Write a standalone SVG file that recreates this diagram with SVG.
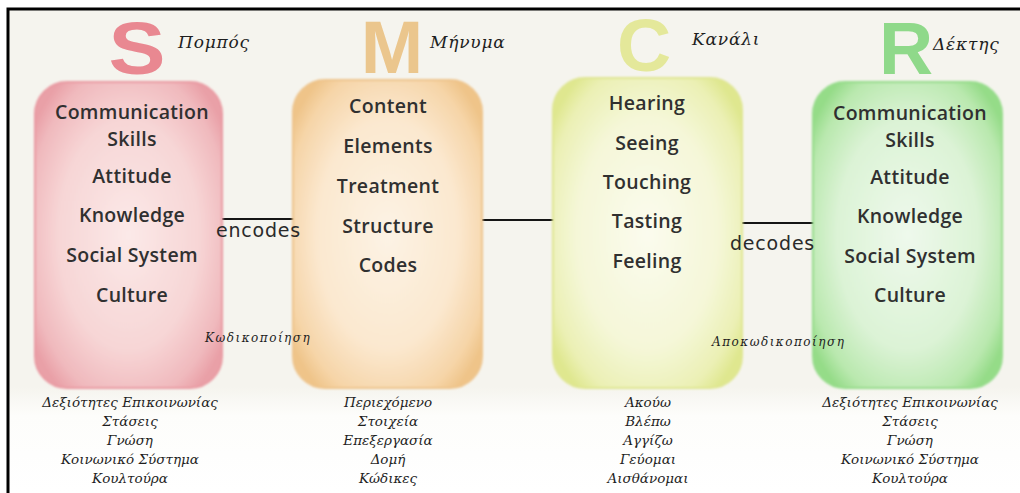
<svg xmlns="http://www.w3.org/2000/svg" width="1020" height="493" viewBox="0 0 1020 493">
  <style>
    .big { font-family: "Liberation Sans", Arial, sans-serif; font-weight: bold; font-size: 75px; text-anchor: middle; }
    .hand { font-family: "DejaVu Serif", "Liberation Serif", serif; font-style: italic; fill: #1e1e1e; }
    .title { font-size: 17px; letter-spacing: 0.8px; }
    .item { font-family: "Open Sans", "Liberation Sans", sans-serif; font-weight: 600; font-size: 19.5px; letter-spacing: 0.3px; fill: #303030; text-anchor: middle; }
    .sub { font-size: 13.5px; text-anchor: middle; }
    .verb { font-family: "DejaVu Sans", "Liberation Sans", sans-serif; font-size: 19px; letter-spacing: 0.8px; fill: #2a2a2a; }
    .note { font-size: 12px; letter-spacing: 1.5px; }
    .link { stroke: #151515; stroke-width: 2.2; }
  </style>
  <defs>
    <linearGradient id="paper" x1="0" y1="0" x2="0" y2="1">
      <stop offset="0" stop-color="#f5f4ee"/>
      <stop offset="0.78" stop-color="#f5f4ee"/>
      <stop offset="0.84" stop-color="#fdfdfb"/>
      <stop offset="1" stop-color="#ffffff"/>
    </linearGradient>
    <radialGradient id="gS" cx="0.5" cy="0.5" r="0.62">
      <stop offset="0" stop-color="#fbe9e8"/>
      <stop offset="0.6" stop-color="#f7d6d6"/>
      <stop offset="0.88" stop-color="#f0b9bd"/>
      <stop offset="1" stop-color="#e9a0a7"/>
    </radialGradient>
    <radialGradient id="gM" cx="0.5" cy="0.5" r="0.62">
      <stop offset="0" stop-color="#fdf3e5"/>
      <stop offset="0.6" stop-color="#fbe8cf"/>
      <stop offset="0.88" stop-color="#f6d5a8"/>
      <stop offset="1" stop-color="#efc489"/>
    </radialGradient>
    <radialGradient id="gC" cx="0.5" cy="0.5" r="0.62">
      <stop offset="0" stop-color="#fbfbee"/>
      <stop offset="0.6" stop-color="#f5f7d8"/>
      <stop offset="0.88" stop-color="#ebf0b4"/>
      <stop offset="1" stop-color="#dfe78f"/>
    </radialGradient>
    <radialGradient id="gR" cx="0.5" cy="0.5" r="0.62">
      <stop offset="0" stop-color="#eef9ec"/>
      <stop offset="0.6" stop-color="#dcf3d6"/>
      <stop offset="0.88" stop-color="#b9e8ae"/>
      <stop offset="1" stop-color="#95dc88"/>
    </radialGradient>
    <filter id="soft" x="-10%" y="-10%" width="120%" height="120%">
      <feGaussianBlur stdDeviation="1.2"/>
    </filter>
  </defs>

  <!-- page -->
  <rect x="0" y="0" width="1020" height="493" fill="#ffffff"/>
  <rect x="8" y="9" width="1012" height="484" fill="url(#paper)"/>
  <path d="M8 493 V9 H1020" fill="none" stroke="#000" stroke-width="3"/>

  <!-- connectors -->
  <g id="connectors">
    <line class="link" x1="222" y1="219" x2="294" y2="219"/>
    <line class="link" x1="482" y1="220" x2="554" y2="220"/>
    <line class="link" x1="742" y1="223" x2="814" y2="223"/>
  </g>

  <!-- Source -->
  <g id="source">
    <text class="big" x="137" y="74" fill="#e98891" textLength="57" lengthAdjust="spacingAndGlyphs">S</text>
    <text class="hand title" x="178" y="48">Πομπός</text>
    <rect x="35" y="82" width="187" height="306" rx="32" fill="url(#gS)" stroke="#e99aa2" stroke-width="2" filter="url(#soft)"/>
    <text class="item" x="132" y="119">Communication</text>
    <text class="item" x="132" y="146">Skills</text>
    <text class="item" x="132" y="183">Attitude</text>
    <text class="item" x="132" y="222">Knowledge</text>
    <text class="item" x="132" y="262">Social System</text>
    <text class="item" x="132" y="302">Culture</text>
    <g class="hand sub">
      <text x="130" y="407">Δεξιότητες Επικοινωνίας</text>
      <text x="130" y="426">Στάσεις</text>
      <text x="130" y="445">Γνώση</text>
      <text x="130" y="464">Κοινωνικό Σύστημα</text>
      <text x="130" y="483">Κουλτούρα</text>
    </g>
  </g>

  <!-- Message -->
  <g id="message">
    <text class="big" x="392" y="73" fill="#ebc68d">M</text>
    <text class="hand title" x="430" y="48">Μήνυμα</text>
    <rect x="293" y="80" width="189" height="308" rx="32" fill="url(#gM)" stroke="#eec48c" stroke-width="2" filter="url(#soft)"/>
    <text class="item" x="388" y="113">Content</text>
    <text class="item" x="388" y="153">Elements</text>
    <text class="item" x="388" y="193">Treatment</text>
    <text class="item" x="388" y="233">Structure</text>
    <text class="item" x="388" y="272">Codes</text>
    <g class="hand sub">
      <text x="388" y="407">Περιεχόμενο</text>
      <text x="388" y="426">Στοιχεία</text>
      <text x="388" y="445">Επεξεργασία</text>
      <text x="388" y="464">Δομή</text>
      <text x="388" y="483">Κώδικες</text>
    </g>
  </g>

  <!-- Channel -->
  <g id="channel">
    <text class="big" x="644" y="71" fill="#e4e89a">C</text>
    <text class="hand title" x="692" y="45">Κανάλι</text>
    <rect x="553" y="78" width="189" height="310" rx="32" fill="url(#gC)" stroke="#dfe692" stroke-width="2" filter="url(#soft)"/>
    <text class="item" x="647" y="110">Hearing</text>
    <text class="item" x="647" y="150">Seeing</text>
    <text class="item" x="647" y="189">Touching</text>
    <text class="item" x="647" y="228">Tasting</text>
    <text class="item" x="647" y="268">Feeling</text>
    <g class="hand sub">
      <text x="648" y="407">Ακούω</text>
      <text x="648" y="426">Βλέπω</text>
      <text x="648" y="445">Αγγίζω</text>
      <text x="648" y="464">Γεύομαι</text>
      <text x="648" y="483">Αισθάνομαι</text>
    </g>
  </g>

  <!-- Receiver -->
  <g id="receiver">
    <text class="big" x="906" y="74" fill="#8fd98a">R</text>
    <text class="hand title" x="933" y="50">Δέκτης</text>
    <rect x="813" y="82" width="189" height="306" rx="32" fill="url(#gR)" stroke="#96dc8b" stroke-width="2" filter="url(#soft)"/>
    <text class="item" x="910" y="120">Communication</text>
    <text class="item" x="910" y="147">Skills</text>
    <text class="item" x="910" y="184">Attitude</text>
    <text class="item" x="910" y="223">Knowledge</text>
    <text class="item" x="910" y="263">Social System</text>
    <text class="item" x="910" y="302">Culture</text>
    <g class="hand sub">
      <text x="910" y="407">Δεξιότητες Επικοινωνίας</text>
      <text x="910" y="426">Στάσεις</text>
      <text x="910" y="445">Γνώση</text>
      <text x="910" y="464">Κοινωνικό Σύστημα</text>
      <text x="910" y="483">Κουλτούρα</text>
    </g>
  </g>

  <!-- connector labels -->
  <g id="labels">
    <text class="verb" x="216" y="237">encodes</text>
    <text class="verb" x="730" y="250">decodes</text>
    <text class="hand note" x="205" y="342">Κωδικοποίηση</text>
    <text class="hand note" x="712" y="346">Αποκωδικοποίηση</text>
  </g>
</svg>
